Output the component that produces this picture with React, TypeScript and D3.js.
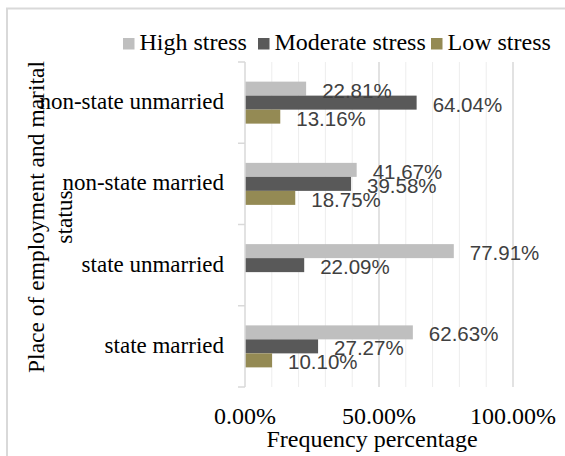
import React from "react";
import * as d3 from "d3";

const categories = ["non-state unmarried", "non-state married", "state unmarried", "state married"];
const seriesNames = ["High stress", "Moderate stress", "Low stress"];
const highStress = [22.81, 41.67, 77.91, 62.63];
const moderateStress = [64.04, 39.58, 22.09, 27.27];
const lowStress = [13.16, 18.75, 0, 10.1];
const xTicks = [0, 50, 100];
const minorTicks = [10, 20, 30, 40, 60, 70, 80, 90];
const colors = ["#BFBFBF", "#595959", "#948A54"];

const W = 565;
const H = 456;
const plot = { left: 245, right: 513, top: 62, bottom: 387 };

export default function App() {
  const series = [highStress, moderateStress, lowStress];
  const x = d3.scaleLinear().domain([0, 100]).range([plot.left, plot.right]);
  const y = d3.scaleBand().domain(categories).range([plot.top, plot.bottom]).padding(0);
  const inner = d3.scaleBand().domain(seriesNames).range([-21, 21]).padding(0);
  const fmt = (v: number) => v.toFixed(2) + "%";
  const serif = "'Liberation Serif', 'Times New Roman', serif";
  const sans = "'Liberation Sans', Arial, sans-serif";

  const legendItems = [
    { sq: 123, tx: 139.5 },
    { sq: 258, tx: 274.5 },
    { sq: 431, tx: 447.5 },
  ];

  const boundaries = [...categories.map((c) => y(c) as number), plot.bottom];

  return (
    <svg width={W} height={H} style={{ position: "absolute", left: 0, top: 0, background: "#fff" }}>
      <rect x={0} y={0} width={W} height={H} fill="#fff" />
      <rect x={7} y={8.5} width={W + 20} height={H + 20} fill="none" stroke="#D9D9D9" strokeWidth={2} />

      {/* minor gridlines */}
      {minorTicks.map((t) => (
        <line key={"m" + t} x1={x(t)} x2={x(t)} y1={plot.top} y2={plot.bottom} stroke="#EDEDED" strokeWidth={1} />
      ))}
      {xTicks.filter((t) => t > 0).map((t) => (
        <line key={"g" + t} x1={x(t)} x2={x(t)} y1={plot.top} y2={plot.bottom} stroke="#D9D9D9" strokeWidth={1.5} />
      ))}

      {/* bars */}
      {series.map((vals, si) =>
        categories.map((c, ci) => {
          const v = vals[ci];
          if (!v) return null;
          const yy = (y(c) as number) + y.bandwidth() / 2 + (inner(seriesNames[si]) as number);
          return (
            <rect key={si + "-" + ci} x={x(0)} y={yy} width={x(v) - x(0)} height={inner.bandwidth()} fill={colors[si]} />
          );
        })
      )}

      {/* axis line and ticks */}
      <line x1={plot.left} x2={plot.left} y1={plot.top} y2={plot.bottom} stroke="#D9D9D9" strokeWidth={1.5} />
      {boundaries.map((b, i) => (
        <line key={"t" + i} x1={plot.left - 7} x2={plot.left} y1={b} y2={b} stroke="#D9D9D9" strokeWidth={1.5} />
      ))}

      {/* data labels */}
      {series.map((vals, si) =>
        categories.map((c, ci) => {
          const v = vals[ci];
          if (!v) return null;
          const yy = (y(c) as number) + y.bandwidth() / 2 + (inner(seriesNames[si]) as number) + inner.bandwidth() / 2;
          return (
            <text key={"l" + si + "-" + ci} x={x(v) + 16} y={yy + 1.5} dominantBaseline="central" fontFamily={sans} fontSize={20.5} fill="#404040">
              {fmt(v)}
            </text>
          );
        })
      )}

      {/* category labels */}
      {categories.map((c) => (
        <text key={c} x={224} y={(y(c) as number) + y.bandwidth() / 2 + 6.5} textAnchor="end" fontFamily={serif} fontSize={23} fill="#000">
          {c}
        </text>
      ))}

      {/* x tick labels */}
      {xTicks.map((t) => (
        <text key={"x" + t} x={x(t)} y={423.5} textAnchor="middle" fontFamily={serif} fontSize={24} fill="#000">
          {t.toFixed(2) + "%"}
        </text>
      ))}
      <text x={(plot.left + plot.right) / 2 - 7} y={447} textAnchor="middle" fontFamily={serif} fontSize={24} fill="#000">
        Frequency percentage
      </text>

      {/* y axis title */}
      <text transform={`translate(43.5, 217) rotate(-90)`} textAnchor="middle" fontFamily={serif} fontSize={23.5} fill="#000">
        Place of employment and marital
      </text>
      <text transform={`translate(71.5, 217) rotate(-90)`} textAnchor="middle" fontFamily={serif} fontSize={23.5} fill="#000">
        status
      </text>

      {/* legend */}
      {seriesNames.map((s, i) => (
        <g key={s}>
          <rect x={legendItems[i].sq} y={38} width={11.5} height={11.5} fill={colors[i]} />
          <text x={legendItems[i].tx} y={49.5} fontFamily={serif} fontSize={24} fill="#000">
            {s}
          </text>
        </g>
      ))}
    </svg>
  );
}
